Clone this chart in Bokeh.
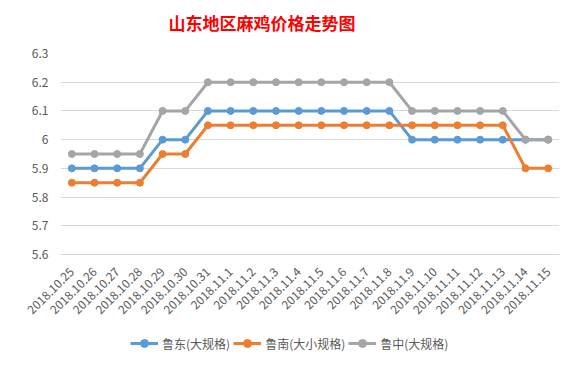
import math
from bokeh.plotting import figure
from bokeh.layouts import column
from bokeh.models import FactorRange, Range1d, FixedTicker, Legend, LegendItem, Label
from bokeh.embed import file_html
from bokeh.resources import INLINE

dates = ["2018.10.25", "2018.10.26", "2018.10.27", "2018.10.28", "2018.10.29", "2018.10.30",
         "2018.10.31", "2018.11.1", "2018.11.2", "2018.11.3", "2018.11.4", "2018.11.5",
         "2018.11.6", "2018.11.7", "2018.11.8", "2018.11.9", "2018.11.10", "2018.11.11",
         "2018.11.12", "2018.11.13", "2018.11.14", "2018.11.15"]
ludong = [5.9, 5.9, 5.9, 5.9, 6.0, 6.0, 6.1, 6.1, 6.1, 6.1, 6.1, 6.1, 6.1, 6.1, 6.1,
          6.0, 6.0, 6.0, 6.0, 6.0, 6.0, 6.0]
lunan = [5.85, 5.85, 5.85, 5.85, 5.95, 5.95, 6.05, 6.05, 6.05, 6.05, 6.05, 6.05, 6.05,
         6.05, 6.05, 6.05, 6.05, 6.05, 6.05, 6.05, 5.9, 5.9]
luzhong = [5.95, 5.95, 5.95, 5.95, 6.1, 6.1, 6.2, 6.2, 6.2, 6.2, 6.2, 6.2, 6.2, 6.2, 6.2,
           6.1, 6.1, 6.1, 6.1, 6.1, 6.0, 6.0]
series_names = ["鲁东(大规格)", "鲁南(大小规格)", "鲁中(大规格)"]
series_colors = ["#5B9BD5", "#ED7D31", "#A5A5A5"]
y_ticks = [5.6, 5.7, 5.8, 5.9, 6.0, 6.1, 6.2, 6.3]
y_tick_labels = ["5.6", "5.7", "5.8", "5.9", "6", "6.1", "6.2", "6.3"]
title_text = "山东地区麻鸡价格走势图"

FONT = "Noto Sans CJK SC"
TXT = "#595959"
series = [ludong, lunan, luzhong]


def strip(h):
    f = figure(width=561, height=h, output_backend="svg", toolbar_location=None,
               x_range=Range1d(0, 1), y_range=Range1d(0, 1), min_border=0)
    f.axis.visible = False
    f.grid.visible = False
    f.outline_line_color = None
    f.background_fill_color = "white"
    f.border_fill_color = "white"
    return f


# title strip
pt = strip(40)
pt.add_layout(Label(x=108, y=18, x_units="screen", y_units="screen", text=title_text,
                    text_color="#FF0000", text_font=FONT, text_font_size="17px",
                    text_font_style="bold", text_baseline="middle", text_align="left"))

# main chart
p = figure(width=561, height=282, output_backend="svg", toolbar_location=None,
           x_range=FactorRange(*dates, range_padding=0), y_range=Range1d(5.6, 6.3),
           min_border_left=60, min_border_right=2, min_border_top=13, min_border_bottom=68)
p.outline_line_color = None
p.background_fill_color = "white"
p.border_fill_color = "white"

p.xgrid.grid_line_color = None
p.ygrid.grid_line_color = "#D9D9D9"
p.ygrid.grid_line_width = 1

p.yaxis.ticker = FixedTicker(ticks=y_ticks)
p.yaxis.major_label_overrides = {t: l for t, l in zip(y_ticks, y_tick_labels)}
p.yaxis.axis_line_color = None
p.yaxis.major_tick_line_color = None
p.yaxis.minor_tick_line_color = None
p.yaxis.major_label_text_font = FONT
p.yaxis.major_label_text_font_size = "12px"
p.yaxis.major_label_text_color = TXT
p.yaxis.major_label_standoff = 6

p.xaxis.axis_line_color = "#D9D9D9"
p.xaxis.major_tick_line_color = None
p.xaxis.minor_tick_line_color = None
p.xaxis.major_label_orientation = math.pi / 4
p.xaxis.major_label_text_font = FONT
p.xaxis.major_label_text_font_size = "12px"
p.xaxis.major_label_text_color = TXT
p.xaxis.major_label_standoff = 9

for vals, col in zip(series, series_colors):
    p.line(dates, vals, line_color=col, line_width=3)
    p.scatter(dates, vals, marker="circle", size=7, fill_color=col, line_color=col)

# legend strip below the chart (its proxy renderers lie outside its 0..1 ranges)
pl = strip(39)
idx = list(range(len(dates)))
items = []
for name, vals, col in zip(series_names, series, series_colors):
    r1 = pl.line(x=idx, y=vals, line_color=col, line_width=3)
    r2 = pl.scatter(x=idx, y=vals, marker="circle", size=7, fill_color=col, line_color=col)
    items.append(LegendItem(label=name, renderers=[r1, r2]))

legend = Legend(items=items, orientation="horizontal", location=(70, 8),
                padding=0, margin=0, spacing=3, label_standoff=4,
                glyph_width=28, glyph_height=20, label_height=20,
                border_line_color=None, background_fill_alpha=0,
                label_text_font=FONT, label_text_font_size="12px", label_text_color=TXT)
pl.add_layout(legend, "center")

layout = column(pt, p, pl, spacing=0)
open("out.html", "w").write(file_html(layout, INLINE))
